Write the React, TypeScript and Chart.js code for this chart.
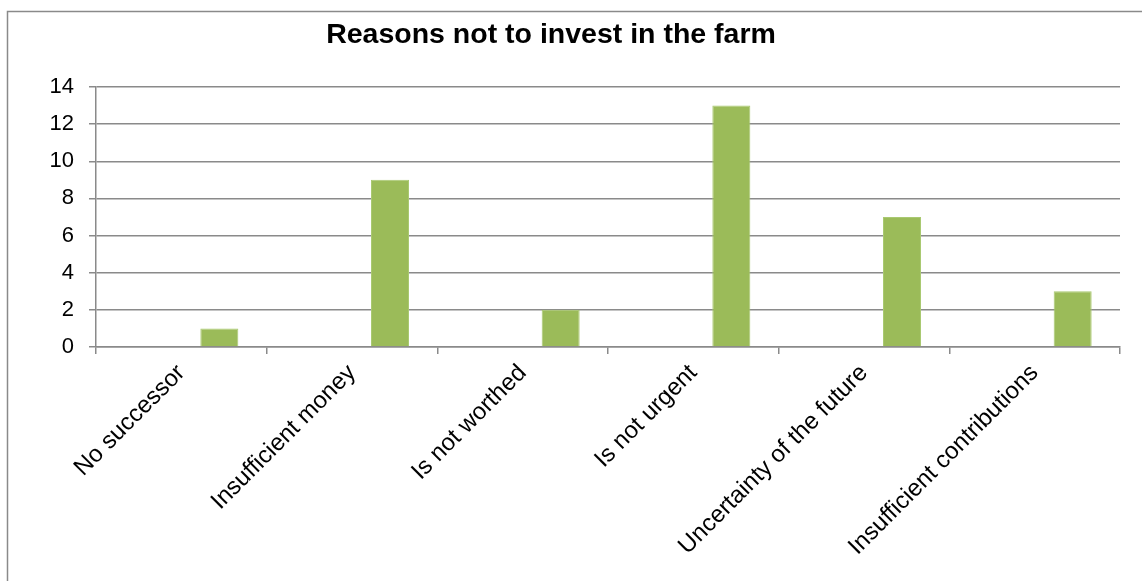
import React, { useEffect, useRef } from "react";
import { Chart, registerables } from "chart.js";

Chart.register(...registerables);

const title = "Reasons not to invest in the farm";
const categories = [
  "No successor",
  "Insufficient money",
  "Is not worthed",
  "Is not urgent",
  "Uncertainty of the future",
  "Insufficient contributions",
];
const emptySeriesA: (number | null)[] = [null, null, null, null, null, null];
const emptySeriesB: (number | null)[] = [null, null, null, null, null, null];
const answers = [1, 9, 2, 13, 7, 3];
const yMin = 0;
const yMax = 14;
const yStep = 2;

const FONT = "'Liberation Sans', Arial, Helvetica, sans-serif";
const GRID = "#8a8a8a";

const frameAndTitle = {
  id: "frameAndTitle",
  beforeDraw(chart: any) {
    const ctx = chart.ctx;
    ctx.save();
    ctx.fillStyle = "#ffffff";
    ctx.fillRect(0, 0, chart.width, chart.height);
    ctx.strokeStyle = GRID;
    ctx.lineWidth = 1.5;
    ctx.beginPath();
    ctx.moveTo(7.5, chart.height + 5);
    ctx.lineTo(7.5, 11.5);
    ctx.lineTo(chart.width + 5, 11.5);
    ctx.stroke();
    ctx.fillStyle = "#000000";
    ctx.font = `bold 28.5px ${FONT}`;
    ctx.textAlign = "center";
    ctx.textBaseline = "alphabetic";
    ctx.fillText(title, 551, 43);
    ctx.restore();
  },
};

export default function App() {
  const ref = useRef<HTMLCanvasElement>(null);
  useEffect(() => {
    if (!ref.current) return;
    const chart = new Chart(ref.current, {
      type: "bar",
      data: {
        labels: categories,
        datasets: [
          { data: emptySeriesA, backgroundColor: "#4F81BD" },
          { data: emptySeriesB, backgroundColor: "#C0504D" },
          { data: answers, backgroundColor: "#9BBB59", borderColor: "#A9C971", borderWidth: 1 },
        ],
      },
      options: {
        responsive: false,
        animation: false,
        devicePixelRatio: 1,
        layout: { padding: { top: 87, left: 0, right: 22, bottom: 0 } },
        datasets: { bar: { categoryPercentage: 0.668, barPercentage: 1 } },
        plugins: {
          legend: { display: false },
          title: { display: false },
          tooltip: { enabled: false },
        },
        scales: {
          x: {
            offset: true,
            grid: {
              offset: true,
              drawOnChartArea: false,
              drawTicks: true,
              tickLength: 7,
              color: GRID,
              lineWidth: 1.5,
            },
            border: { display: true, color: GRID, width: 1.5 },
            ticks: {
              autoSkip: false,
              maxRotation: 45,
              minRotation: 45,
              padding: 5,
              color: "#000000",
              font: { family: FONT, size: 24 },
            },
            afterFit(scale: any) {
              scale.height = 581 - 347;
            },
          },
          y: {
            min: yMin,
            max: yMax,
            ticks: {
              stepSize: yStep,
              padding: 15,
              color: "#000000",
              font: { family: FONT, size: 22 },
            },
            grid: {
              drawTicks: true,
              tickLength: 7,
              color: GRID,
              lineWidth: 1.5,
            },
            border: { display: true, color: GRID, width: 1.5 },
            afterFit(scale: any) {
              scale.width = 96;
            },
          },
        },
      },
      plugins: [frameAndTitle],
    });
    return () => chart.destroy();
  }, []);
  return (
    <canvas
      ref={ref}
      width={1142}
      height={581}
      style={{ position: "fixed", left: 0, top: 0, width: 1142, height: 581, display: "block" }}
    />
  );
}
